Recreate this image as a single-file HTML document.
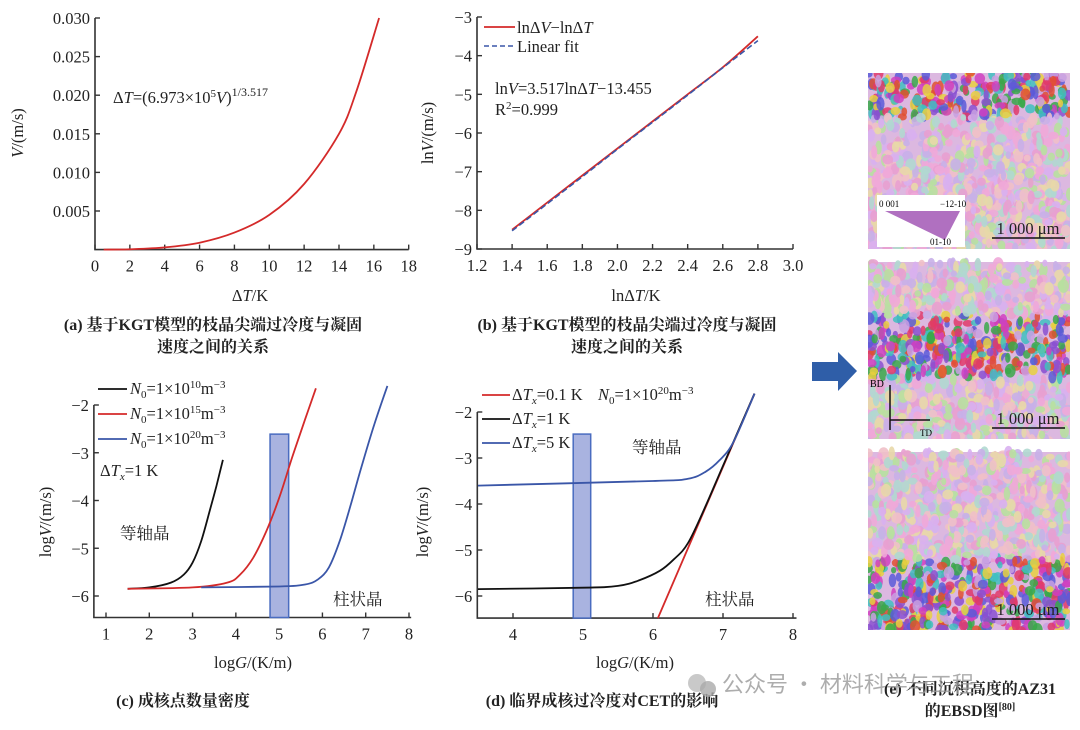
<!DOCTYPE html>
<html><head><meta charset="utf-8"><style>
html,body{margin:0;padding:0;background:#fff;}
svg{display:block;font-family:"Liberation Serif","Noto Serif CJK SC",serif;}
.t{font-size:16.5px;fill:#222;}
.cap{font-size:16px;fill:#222;font-weight:bold;}
</style></head><body>
<svg id="s" width="1080" height="730" viewBox="0 0 1080 730">
<defs><clipPath id="ec"><rect x="868" y="73" width="202" height="558"/></clipPath></defs>
<g id="ebsd" clip-path="url(#ec)"></g>
<g id="main"></g>
</svg>
<script>
// Panel a data
const aX=[0.5,2,4,6,8,10,12,14,15,16.3];
const aY=[0,0.00004,0.00028,0.0009,0.0022,0.0045,0.0085,0.0150,0.0205,0.030];
// Panel b data
const bX=[1.4,1.6,1.8,2.0,2.2,2.4,2.6,2.8];
const bYred=[-8.5,-7.8,-7.1,-6.4,-5.7,-5.0,-4.3,-3.5];
const bYfit=[-8.53,-7.83,-7.13,-6.42,-5.72,-5.02,-4.31,-3.61];
// Panel c data
const cBlackX=[1.5,2,2.5,2.8,3.0,3.2,3.4,3.55,3.7];
const cBlackY=[-5.85,-5.82,-5.72,-5.55,-5.3,-4.85,-4.2,-3.7,-3.15];
const cRedX=[1.5,3,3.8,4.1,4.4,4.7,5.0,5.3,5.6,5.85];
const cRedY=[-5.85,-5.82,-5.72,-5.55,-5.2,-4.65,-3.95,-3.1,-2.3,-1.65];
const cBlueX=[3.2,5,5.6,5.9,6.15,6.4,6.65,6.9,7.2,7.5];
const cBlueY=[-5.82,-5.8,-5.76,-5.65,-5.4,-4.85,-4.1,-3.3,-2.4,-1.6];
const cBand=[4.79,5.22,-2.61];
// Panel d data
const dRedX=[6.07,7.45];
const dRedY=[-6.48,-1.6];
const dBlackX=[3.5,5,5.5,5.8,6.1,6.3,6.5,6.75,7.0,7.45];
const dBlackY=[-5.85,-5.82,-5.78,-5.66,-5.45,-5.2,-4.85,-4.05,-3.17,-1.6];
const dBlueX=[3.5,6.0,6.5,6.75,6.95,7.15,7.45];
const dBlueY=[-3.6,-3.5,-3.45,-3.3,-3.05,-2.65,-1.6];
const dBand=[4.86,5.11,-2.48];
const aTicksX=[0,2,4,6,8,10,12,14,16,18], aTicksY=[0.005,0.010,0.015,0.020,0.025,0.030];
const bTicksX=[1.2,1.4,1.6,1.8,2.0,2.2,2.4,2.6,2.8,3.0], bTicksY=[-9,-8,-7,-6,-5,-4,-3];
const cTicksX=[1,2,3,4,5,6,7,8], cTicksY=[-6,-5,-4,-3,-2];
const dTicksX=[4,5,6,7,8], dTicksY=[-6,-5,-4,-3,-2];

const NS='http://www.w3.org/2000/svg';
const main=document.getElementById('main');
function el(tag,attrs,parent,text){const e=document.createElementNS(NS,tag);for(const k in attrs)e.setAttribute(k,attrs[k]);if(text!==undefined)e.textContent=text;(parent||main).appendChild(e);return e;}
function lin(d0,d1,p0,p1){return v=>p0+(v-d0)/(d1-d0)*(p1-p0);}
function poly(xs,ys,sx,sy,attrs,name,g){
 const P=xs.map((x,i)=>[sx(x),sy(ys[i])]);
 let d='M'+P[0][0].toFixed(1)+','+P[0][1].toFixed(1);
 for(let i=0;i<P.length-1;i++){const p0=P[Math.max(i-1,0)],p1=P[i],p2=P[i+1],p3=P[Math.min(i+2,P.length-1)];
  const c1=[p1[0]+(p2[0]-p0[0])/6,p1[1]+(p2[1]-p0[1])/6],c2=[p2[0]-(p3[0]-p1[0])/6,p2[1]-(p3[1]-p1[1])/6];
  d+=`C${c1[0].toFixed(1)},${c1[1].toFixed(1)} ${c2[0].toFixed(1)},${c2[1].toFixed(1)} ${p2[0].toFixed(1)},${p2[1].toFixed(1)}`;}
 const e=el('path',Object.assign({d:d,fill:'none'},attrs),g);
 
 return e;}
function axes(name,sx,sy,x0,x1,y0,y1,tx,ty,fmtX,fmtY){
 const g=el('g',{});
 
 
 el('path',{d:`M${sx(x0)},${sy(y1)}V${sy(y0)}H${sx(x1)}`,stroke:'#333','stroke-width':1.6,fill:'none'},g);
 tx.forEach(v=>{el('line',{x1:sx(v),x2:sx(v),y1:sy(y0),y2:sy(y0)-5,stroke:'#333','stroke-width':1.4},g);el('text',{x:sx(v),y:sy(y0)+22,'text-anchor':'middle',class:'t'},g,fmtX(v));});
 ty.forEach(v=>{el('line',{x1:sx(x0),x2:sx(x0)+5,y1:sy(v),y2:sy(v),stroke:'#333','stroke-width':1.4},g);el('text',{x:sx(x0)-5,y:sy(v)+6,'text-anchor':'end',class:'t'},g,fmtY(v));});
 return g;}
const mf=v=>(v<0?'\u2212'+(-v):''+v);

// Panel a
const axA=lin(0,18,95,408.7), ayA=lin(0,0.030,249.6,18);
axes('panel-a',axA,ayA,0,18,0,0.030,aTicksX,aTicksY,v=>''+v,v=>v.toFixed(3));
poly(aX,aY,axA,ayA,{stroke:'#d42a2a','stroke-width':1.8},'velocity-curve');
el('text',{x:113,y:103,class:'t'},main).innerHTML='Δ<tspan font-style="italic">T</tspan>=(6.973×10<tspan dy="-6" font-size="11">5</tspan><tspan dy="6" font-style="italic">V</tspan>)<tspan dy="-7" font-size="12">1/3.517</tspan>';
el('text',{x:250,y:301,'text-anchor':'middle',class:'t'},main).innerHTML='Δ<tspan font-style="italic">T</tspan>/K';
el('text',{transform:'translate(23,133) rotate(-90)','text-anchor':'middle',class:'t'},main).innerHTML='<tspan font-style="italic">V</tspan>/(m/s)';
el('text',{x:213,y:330,'text-anchor':'middle',class:'cap'},main,'(a) 基于KGT模型的枝晶尖端过冷度与凝固');
el('text',{x:213,y:352,'text-anchor':'middle',class:'cap'},main,'速度之间的关系');

// Panel b
const axB=lin(1.2,3.0,477,793), ayB=lin(-9,-3,249,17);
axes('panel-b',axB,ayB,1.2,3.0,-9,-3,bTicksX,bTicksY,v=>v.toFixed(1),mf);
poly(bX,bYred,axB,ayB,{stroke:'#d42a2a','stroke-width':1.8},'ln-curve');
poly(bX,bYfit,axB,ayB,{stroke:'#3a56a8','stroke-width':1.6,'stroke-dasharray':'6,3'},'linear-fit');
el('line',{x1:484,x2:515,y1:27,y2:27,stroke:'#d42a2a','stroke-width':1.8});
el('text',{x:517,y:33,class:'t'},main).innerHTML='lnΔ<tspan font-style="italic">V</tspan>−lnΔ<tspan font-style="italic">T</tspan>';
el('line',{x1:484,x2:515,y1:46,y2:46,stroke:'#3a56a8','stroke-width':1.6,'stroke-dasharray':'5,3'});
el('text',{x:517,y:52,class:'t'},main,'Linear fit');
el('text',{x:495,y:94,class:'t'},main).innerHTML='ln<tspan font-style="italic">V</tspan>=3.517lnΔ<tspan font-style="italic">T</tspan>−13.455';
el('text',{x:495,y:115,class:'t'},main).innerHTML='R<tspan dy="-6" font-size="11">2</tspan><tspan dy="6">=0.999</tspan>';
el('text',{x:636,y:301,'text-anchor':'middle',class:'t'},main).innerHTML='lnΔ<tspan font-style="italic">T</tspan>/K';
el('text',{transform:'translate(433,133) rotate(-90)','text-anchor':'middle',class:'t'},main).innerHTML='ln<tspan font-style="italic">V</tspan>/(m/s)';
el('text',{x:627,y:330,'text-anchor':'middle',class:'cap'},main,'(b) 基于KGT模型的枝晶尖端过冷度与凝固');
el('text',{x:627,y:352,'text-anchor':'middle',class:'cap'},main,'速度之间的关系');

// Panel c
const axC=lin(1,8,106,409), ayC=lin(-6,-2,596,405);
axes('panel-c',axC,ayC,0.72,8.05,-6.45,-2,cTicksX,cTicksY,v=>''+v,mf);
el('rect',{x:axC(cBand[0]),y:ayC(cBand[2]),width:axC(cBand[1])-axC(cBand[0]),height:ayC(-6.45)-ayC(cBand[2]),fill:'#a9b3e0',stroke:'#4a6cc0','stroke-width':1.5,});
poly(cBlackX,cBlackY,axC,ayC,{stroke:'#111','stroke-width':1.8},'curve-n0-1e10');
poly(cRedX,cRedY,axC,ayC,{stroke:'#d42a2a','stroke-width':1.8},'curve-n0-1e15');
poly(cBlueX,cBlueY,axC,ayC,{stroke:'#3a56a8','stroke-width':1.8},'curve-n0-1e20');
[['#111','10',394],['#d42a2a','15',419],['#3a56a8','20',444]].forEach(([c,e,y])=>{el('line',{x1:98,x2:127,y1:y-5,y2:y-5,stroke:c,'stroke-width':1.8});
el('text',{x:130,y:y,class:'t'},main).innerHTML='<tspan font-style="italic">N</tspan><tspan dy="4" font-size="11">0</tspan><tspan dy="-4">=1×10</tspan><tspan dy="-6" font-size="11">'+e+'</tspan><tspan dy="6">m</tspan><tspan dy="-6" font-size="11">−3</tspan>';});
el('text',{x:100,y:476,class:'t'},main).innerHTML='Δ<tspan font-style="italic">T</tspan><tspan dy="4" font-size="11" font-style="italic">x</tspan><tspan dy="-4">=1 K</tspan>';
el('text',{x:120,y:539,class:'t'},main,'等轴晶');
el('text',{x:333,y:605,class:'t'},main,'柱状晶');
el('text',{x:253,y:668,'text-anchor':'middle',class:'t'},main).innerHTML='log<tspan font-style="italic">G</tspan>/(K/m)';
el('text',{transform:'translate(51,522) rotate(-90)','text-anchor':'middle',class:'t'},main).innerHTML='log<tspan font-style="italic">V</tspan>/(m/s)';
el('text',{x:183,y:706,'text-anchor':'middle',class:'cap'},main,'(c) 成核点数量密度');

// Panel d
const axD=lin(4,8,513,793), ayD=lin(-6,-2,596,412);
axes('panel-d',axD,ayD,3.49,8.05,-6.48,-2,dTicksX,dTicksY,v=>''+v,mf);
el('rect',{x:axD(dBand[0]),y:ayD(dBand[2]),width:axD(dBand[1])-axD(dBand[0]),height:ayD(-6.48)-ayD(dBand[2]),fill:'#a9b3e0',stroke:'#4a6cc0','stroke-width':1.5,});
poly(dRedX,dRedY,axD,ayD,{stroke:'#d42a2a','stroke-width':1.8},'curve-dtx-0.1');
poly(dBlackX,dBlackY,axD,ayD,{stroke:'#111','stroke-width':1.8},'curve-dtx-1');
poly(dBlueX,dBlueY,axD,ayD,{stroke:'#3a56a8','stroke-width':1.8},'curve-dtx-5');
[['#d42a2a','0.1 K',400],['#111','1 K',424],['#3a56a8','5 K',448]].forEach(([c,t,y])=>{el('line',{x1:482,x2:510,y1:y-5,y2:y-5,stroke:c,'stroke-width':1.8});
el('text',{x:512,y:y,class:'t'},main).innerHTML='Δ<tspan font-style="italic">T</tspan><tspan dy="4" font-size="11" font-style="italic">x</tspan><tspan dy="-4">='+t+'</tspan>';});
el('text',{x:598,y:400,class:'t'},main).innerHTML='<tspan font-style="italic">N</tspan><tspan dy="4" font-size="11">0</tspan><tspan dy="-4">=1×10</tspan><tspan dy="-6" font-size="11">20</tspan><tspan dy="6">m</tspan><tspan dy="-6" font-size="11">−3</tspan>';
el('text',{x:632,y:453,class:'t'},main,'等轴晶');
el('text',{x:705,y:605,class:'t'},main,'柱状晶');
el('text',{x:635,y:668,'text-anchor':'middle',class:'t'},main).innerHTML='log<tspan font-style="italic">G</tspan>/(K/m)';
el('text',{transform:'translate(428,522) rotate(-90)','text-anchor':'middle',class:'t'},main).innerHTML='log<tspan font-style="italic">V</tspan>/(m/s)';
el('text',{x:602,y:706,'text-anchor':'middle',class:'cap'},main,'(d) 临界成核过冷度对CET的影响');

// arrow
el('path',{d:'M812,362H838V352L857,371L838,391V381H812Z',fill:'#2f5ea8',});

// EBSD maps (decorative texture)
const eb=document.getElementById('ebsd');
let seed=7;function rnd(){seed=(seed*16807)%2147483647;return seed/2147483647;}
const vivid=['#e03a6a','#3aa84a','#5a5ad8','#e8d040','#d040c0','#40c0c0','#e05030','#8a50d0','#c8a0e0'];
const pastel=['#e8a0d0','#b8e0a0','#c8b0e8','#f0c0c8','#b0d8d0','#e8d8a8','#d8b0f0','#f0a8d8'];
[[73,250],[262,440],[452,631]].forEach(([y0,y1],pi)=>{
 el('rect',{x:868,y:y0,width:202,height:y1-y0,fill:'#dcb8e0'},eb);
 for(let i=0;i<1100;i++){const x=868+rnd()*202,y=y0+rnd()*(y1-y0);const f=(y-y0)/(y1-y0);
  let v=(pi==0&&f<0.25)||(pi==1&&f>0.3&&f<0.65)||(pi==2&&f>0.6);
  const pal=v?vivid:pastel;el('ellipse',{cx:x,cy:y,rx:2.5+rnd()*3,ry:3+rnd()*4,fill:pal[Math.floor(rnd()*pal.length)],opacity:v?0.85:0.9},eb);}
 el('rect',{x:868,y:y1-1,width:202,height:12,fill:'#fff'},eb);
 el('line',{x1:992,x2:1065,y1:y1-12,y2:y1-12,stroke:'#111','stroke-width':1.5},eb);
 el('text',{x:1028,y:y1-16,'text-anchor':'middle',class:'t'},eb,'1 000 μm');
});
el('rect',{x:877,y:195,width:88,height:52,fill:'#fff'},eb);
el('path',{d:'M885,211L960,211L945,240Z',fill:'#b070c0'},eb);
el('text',{x:879,y:207,'font-size':'9'},eb,'0 001');
el('text',{x:940,y:207,'font-size':'9'},eb,'−12-10');
el('text',{x:930,y:245,'font-size':'9'},eb,'01-10');
el('path',{d:'M890,430V385M890,420H930',stroke:'#111','stroke-width':1.5,fill:'none'},eb);
el('text',{x:870,y:387,'font-size':'10'},eb,'BD');
el('text',{x:920,y:436,'font-size':'9'},eb,'TD');
el('text',{x:970,y:694,'text-anchor':'middle',class:'cap'},main,'(e) 不同沉积高度的AZ31');
el('text',{x:970,y:716,'text-anchor':'middle',class:'cap'},main).innerHTML='的EBSD图<tspan dy="-6" font-size="10">[80]</tspan>';
// watermark
el('circle',{cx:697,cy:683,r:9,fill:'#bbb',opacity:0.8});
el('circle',{cx:708,cy:689,r:8,fill:'#aaa',opacity:0.8});
el('text',{x:722,y:692,'font-size':'22',fill:'#999',opacity:0.8,'font-family':'Noto Sans CJK SC, sans-serif',},main,'公众号 · 材料科学与工程');
</script>
</body></html>
